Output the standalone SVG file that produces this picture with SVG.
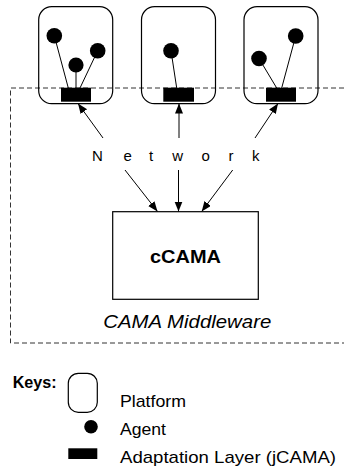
<svg xmlns="http://www.w3.org/2000/svg" width="344" height="470" viewBox="0 0 344 470">
<style>
.plat{fill:none;stroke:#000;stroke-width:1.2}
.agent{fill:#000}
.al{fill:#000}
.ln{stroke:#000;stroke-width:1;fill:none}
.arr{stroke:#000;stroke-width:1;fill:none;marker-end:url(#ah)}
.dash{stroke:#333;stroke-width:1;fill:none;stroke-dasharray:5 3}
.t{font-family:"Liberation Sans",Arial,sans-serif;fill:#000}
.key{font-size:17px}
</style>
<defs>
<marker id="ah" markerUnits="userSpaceOnUse" markerWidth="11" markerHeight="9" refX="10" refY="4" orient="auto">
<path d="M0,0 L10,4 L0,8 z" fill="#000"/>
</marker>
</defs>
<rect width="344" height="470" fill="#fff"/>
<g id="middleware">
<path class="dash" d="M344,88 H10.5 V343 H344"/>
<text class="t" x="103.3" y="327.5" font-size="18" font-style="italic" textLength="168" lengthAdjust="spacingAndGlyphs">CAMA Middleware</text>
</g>
<g id="platform1">
<rect class="plat" x="38.7" y="6.7" width="74" height="97" rx="13"/>
<circle class="agent" cx="54.3" cy="35.7" r="7.8"/>
<circle class="agent" cx="76" cy="65" r="7.6"/>
<circle class="agent" cx="97.7" cy="50.7" r="7.8"/>
<rect class="al" x="61" y="87.7" width="30" height="14"/>
</g>
<g id="platform2">
<rect class="plat" x="141.5" y="6.7" width="74" height="97" rx="13"/>
<circle class="agent" cx="171" cy="50.7" r="7.8"/>
<rect class="al" x="163.3" y="87.7" width="30.7" height="14"/>
</g>
<g id="platform3">
<rect class="plat" x="244" y="6.7" width="74" height="97" rx="13"/>
<circle class="agent" cx="295.7" cy="36" r="7.8"/>
<circle class="agent" cx="259" cy="58.5" r="7.8"/>
<rect class="al" x="266" y="87.7" width="30" height="14"/>
</g>
<g id="network">
<text class="t" font-size="15" text-anchor="middle" x="97.3 127.7 151 177.7 205.7 231 255.7" y="160.5">Network</text>
</g>
<g id="ccama">
<rect x="112.7" y="211.7" width="145.6" height="87.6" fill="none" stroke="#000" stroke-width="1.2"/>
<text class="t" x="185.5" y="262.5" font-size="19" font-weight="bold" text-anchor="middle" textLength="71" lengthAdjust="spacingAndGlyphs">cCAMA</text>
</g>
<g id="connectors">
<line class="ln" x1="54.3" y1="35.7" x2="68.3" y2="88"/>
<line class="ln" x1="76" y1="65" x2="76" y2="88"/>
<line class="ln" x1="97.7" y1="50.7" x2="80" y2="88"/>
<line class="ln" x1="171" y1="50.7" x2="176.7" y2="88"/>
<line class="ln" x1="259" y1="58.5" x2="276.7" y2="88"/>
<line class="ln" x1="295.7" y1="36" x2="281.7" y2="88"/>
<line class="arr" x1="103" y1="138" x2="78" y2="103.5"/>
<line class="arr" x1="179" y1="138" x2="179" y2="103.5"/>
<line class="arr" x1="255" y1="138" x2="278" y2="103.5"/>
<line class="arr" x1="125" y1="170" x2="157.5" y2="211.5"/>
<line class="arr" x1="178.5" y1="170" x2="178.5" y2="211.5"/>
<line class="arr" x1="232.7" y1="170" x2="201.7" y2="211.5"/>
</g>
<g id="legend">
<text class="t" x="12.7" y="388" font-size="16" font-weight="bold" textLength="44" lengthAdjust="spacingAndGlyphs">Keys:</text>
<rect class="plat" x="68.3" y="373.3" width="29" height="39" rx="10"/>
<text class="t key" x="120" y="407" textLength="66" lengthAdjust="spacingAndGlyphs">Platform</text>
<circle class="agent" cx="91" cy="426.7" r="6.8"/>
<text class="t key" x="120" y="434.5" textLength="46" lengthAdjust="spacingAndGlyphs">Agent</text>
<rect class="al" x="68.3" y="448.3" width="29" height="10.7"/>
<text class="t key" x="120" y="462.5" textLength="216" lengthAdjust="spacingAndGlyphs">Adaptation Layer (jCAMA)</text>
</g>
</svg>
